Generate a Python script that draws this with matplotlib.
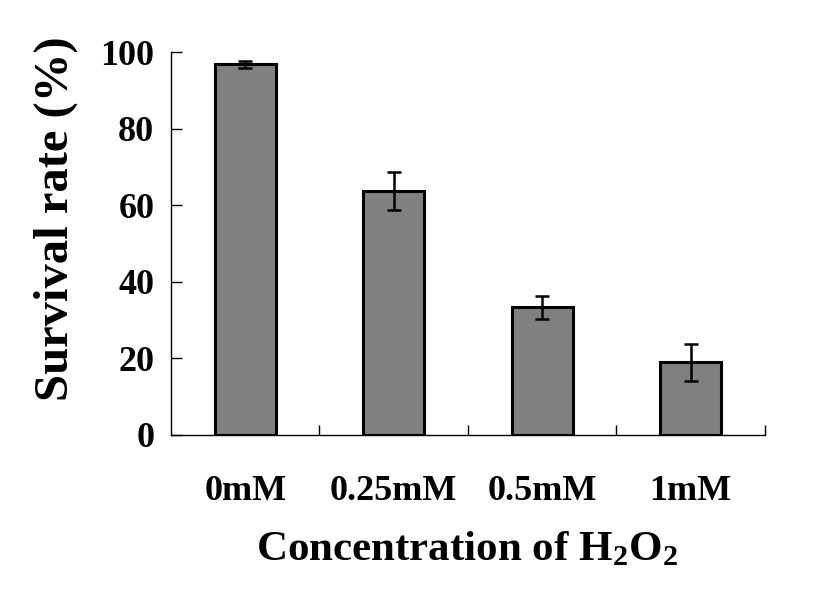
import matplotlib
matplotlib.use("Agg")
import matplotlib.pyplot as plt
import numpy as np

categories = ["0mM", "0.25mM", "0.5mM", "1mM"]
survival = [96.8, 63.7, 33.3, 19.0]
errors = [0.9, 5.0, 2.9, 4.8]
yticks = [0, 20, 40, 60, 80, 100]

plt.rcParams['font.family'] = ['Liberation Serif', 'DejaVu Serif']
plt.rcParams['font.weight'] = 'bold'
plt.rcParams['mathtext.fontset'] = 'custom'
plt.rcParams['mathtext.rm'] = 'Liberation Serif:bold'
plt.rcParams['mathtext.default'] = 'rm'

fig = plt.figure(figsize=(8.18, 5.91), dpi=100)
ax = fig.add_axes([0.209, 0.264, 0.726, 0.648])

x = np.arange(len(categories))
ax.bar(x, survival, width=0.41, color='#808080', edgecolor='black', linewidth=2.2, zorder=2)
ax.errorbar(x, survival, yerr=errors, fmt='none', ecolor='black', elinewidth=1.8,
            capsize=4.7, capthick=1.8, zorder=3)

ax.set_xlim(-0.5, len(categories) - 0.5)
ax.set_ylim(0, 100)
ax.set_yticks(yticks)
ax.set_yticklabels([str(v) for v in yticks], fontsize=26, fontweight='bold')
ax.tick_params(axis='y', direction='in', length=8, width=1, pad=12)

ax.set_xticks(np.append(x[:-1] + 0.5, len(categories) - 0.5))
ax.set_xticklabels([])
ax.tick_params(axis='x', which='major', direction='in', length=7.5, width=1)
ax.set_xticks(x, minor=True)
ax.set_xticklabels(categories, minor=True, fontsize=26, fontweight='bold')
ax.tick_params(axis='x', which='minor', length=0, pad=29)

for s in ['top', 'right']:
    ax.spines[s].set_visible(False)
for s in ['left', 'bottom']:
    ax.spines[s].set_linewidth(1)

fig.text(0.068, 0.63, 'Survival rate (%)', rotation=90, ha='center', va='center',
         fontsize=35, fontweight='bold')
fig.text(0.571, 0.07, 'Concentration of H$_2$O$_2$', ha='center', va='center',
         fontsize=31, fontweight='bold')

fig.savefig('out.png', dpi=100)
